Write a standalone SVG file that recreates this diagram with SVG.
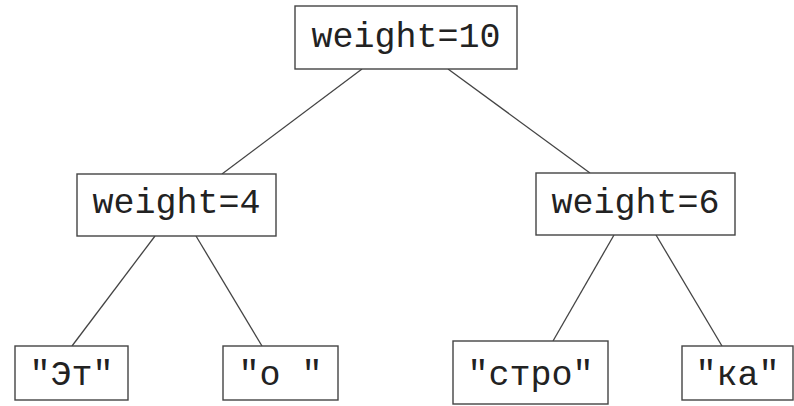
<svg xmlns="http://www.w3.org/2000/svg" width="794" height="406" viewBox="0 0 794 406">
  <style>
    .box { fill: #ffffff; stroke: #444444; stroke-width: 1.4; }
    .lbl { font-family: "Liberation Mono", "DejaVu Sans Mono", monospace; font-size: 35px; fill: #222222; text-anchor: middle; }
    .edge { stroke: #444444; stroke-width: 1.3; fill: none; }
  </style>
  <rect width="794" height="406" fill="#ffffff"/>
  <!-- tree edges -->
  <g id="connectors">
    <line class="edge" x1="362" y1="69" x2="222" y2="174"/>
    <line class="edge" x1="448" y1="69" x2="590" y2="173"/>
    <line class="edge" x1="155" y1="236" x2="72" y2="346"/>
    <line class="edge" x1="196" y1="236" x2="262" y2="346"/>
    <line class="edge" x1="614" y1="235" x2="553" y2="341"/>
    <line class="edge" x1="656" y1="235" x2="722" y2="346"/>
  </g>
  <!-- root -->
  <g id="root">
    <rect class="box" x="295" y="6" width="222" height="63"/>
    <text class="lbl" x="406" y="47">weight=10</text>
  </g>
  <!-- inner nodes -->
  <g id="left">
    <rect class="box" x="77" y="174" width="199" height="62"/>
    <text class="lbl" x="176.5" y="213">weight=4</text>
  </g>
  <g id="right">
    <rect class="box" x="536" y="173" width="199" height="62"/>
    <text class="lbl" x="635.5" y="213">weight=6</text>
  </g>
  <!-- leaves -->
  <g id="leaf1">
    <rect class="box" x="15" y="346" width="113" height="54"/>
    <text class="lbl" x="71.5" y="385">"Эт"</text>
  </g>
  <g id="leaf2">
    <rect class="box" x="223" y="346" width="115" height="54"/>
    <text class="lbl" x="280.5" y="385" xml:space="preserve">"о "</text>
  </g>
  <g id="leaf3">
    <rect class="box" x="453" y="341" width="155" height="63"/>
    <text class="lbl" x="530.5" y="385">"стро"</text>
  </g>
  <g id="leaf4">
    <rect class="box" x="682" y="346" width="111" height="54"/>
    <text class="lbl" x="737.5" y="385">"ка"</text>
  </g>
</svg>
